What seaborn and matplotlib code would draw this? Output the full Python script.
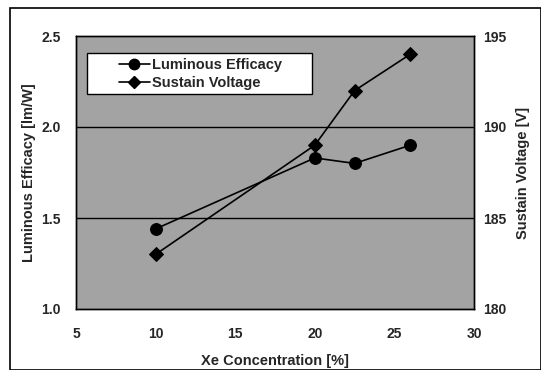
import matplotlib
matplotlib.use("Agg")
import matplotlib.pyplot as plt
import seaborn as sns
import pandas as pd
from matplotlib.lines import Line2D
from matplotlib.patches import Rectangle

xe = [10, 20, 22.5, 26]
efficacy = [1.44, 1.83, 1.80, 1.90]
voltage = [183, 189, 192, 194]

sns.set_theme(style="white")
plt.rcParams['font.family'] = ['Liberation Sans', 'DejaVu Sans']
plt.rcParams['font.weight'] = 'bold'

TFS = 10
LFS = 10.5
fig = plt.figure(figsize=(5.41, 3.70), dpi=100)
ax = fig.add_axes([76/541, 61/370, 398/541, 273/370])
ax.set_facecolor('#a3a3a3')
ax2 = ax.twinx()

df1 = pd.DataFrame({'x': xe, 'y': efficacy})
df2 = pd.DataFrame({'x': xe, 'y': voltage})
sns.lineplot(data=df1, x='x', y='y', ax=ax, color='black', marker='o',
             markersize=8.5, linewidth=1.2, markeredgecolor='black')
sns.lineplot(data=df2, x='x', y='y', ax=ax2, color='black', marker='D',
             markersize=7, linewidth=1.2, markeredgecolor='black')

ax.set_xlim(5, 30)
ax.set_ylim(1.0, 2.5)
ax2.set_ylim(180, 195)
ax.set_xticks([5, 10, 15, 20, 25, 30])
ax.set_yticks([1.0, 1.5, 2.0, 2.5])
ax.set_yticklabels(['1.0', '1.5', '2.0', '2.5'])
ax2.set_yticks([180, 185, 190, 195])
for y in [1.5, 2.0]:
    ax.axhline(y, color='black', linewidth=1.0, zorder=1)

ax.set_xlabel('Xe Concentration [%]', fontsize=LFS, fontweight='bold', labelpad=9)
ax.set_ylabel('Luminous Efficacy [lm/W]', fontsize=LFS, fontweight='bold', labelpad=4)
ax2.set_ylabel('Sustain Voltage [V]', fontsize=LFS, fontweight='bold', labelpad=7)

ax.tick_params(axis='y', length=0, labelsize=TFS, pad=11)
ax.tick_params(axis='x', length=0, labelsize=TFS, pad=13)
ax2.tick_params(axis='y', length=0, labelsize=TFS, pad=6.5)
for a in (ax, ax2):
    for lab in a.get_xticklabels() + a.get_yticklabels():
        lab.set_fontweight('bold')
    for s in a.spines.values():
        s.set_color('black')
        s.set_linewidth(1.0)

# legend frame (Excel-style wide box)
ax2.add_patch(Rectangle((0.0276, 0.788), 0.565, 0.150, transform=ax2.transAxes,
                        facecolor='white', edgecolor='black', linewidth=1.0,
                        zorder=5))
handles = [Line2D([], [], color='black', marker='o', markersize=7.5, linewidth=1.2),
           Line2D([], [], color='black', marker='D', markersize=6.5, linewidth=1.2)]
leg = ax2.legend(handles, ['Luminous Efficacy', 'Sustain Voltage'],
                 loc='upper left', bbox_to_anchor=(0.108, 0.92), frameon=False,
                 fontsize=LFS, handlelength=2.1, handletextpad=0.15, borderpad=0,
                 labelspacing=0.3, borderaxespad=0)
leg.set_zorder(6)
for t in leg.get_texts():
    t.set_fontweight('bold')

fig.patches.append(Rectangle((10/541, 0.0), 1 - 10/541, 1 - 8/370,
                             transform=fig.transFigure, fill=False,
                             edgecolor='black', linewidth=1.2))
fig.savefig('out.png', dpi=100)
